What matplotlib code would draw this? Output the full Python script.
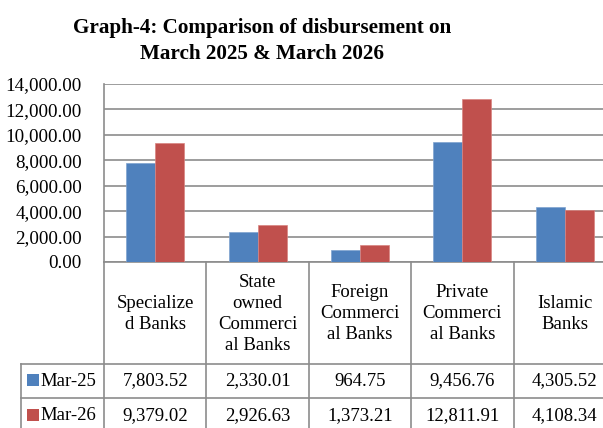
import matplotlib
matplotlib.use("Agg")
import matplotlib.pyplot as plt

categories = ["Specialize\nd Banks", "State\nowned\nCommerci\nal Banks",
              "Foreign\nCommerci\nal Banks", "Private\nCommerci\nal Banks",
              "Islamic\nBanks"]
series_names = ["Mar-25", "Mar-26"]
mar25 = [7803.52, 2330.01, 964.75, 9456.76, 4305.52]
mar26 = [9379.02, 2926.63, 1373.21, 12811.91, 4108.34]
yticks = [0, 2000, 4000, 6000, 8000, 10000, 12000, 14000]
title = "Graph-4: Comparison of disbursement on\nMarch 2025 & March 2026"

colors = ["#4F81BD", "#C0504D"]
edges = ["#7FA3D0", "#D98481"]
grid_c = "#8C8C8C"
FONT = "Liberation Serif"

W, H = 603, 428
fig = plt.figure(figsize=(W / 100, H / 100), dpi=100)
fig.patch.set_facecolor("white")

# pixel layout
x0, cat_w = 104, 102.4
y_top, y_axis = 84, 262
ncat = len(categories)
ax = fig.add_axes([x0 / W, (H - y_axis) / H, ncat * cat_w / W, (y_axis - y_top) / H])
ax.set_xlim(-0.5, ncat - 0.5)
ax.set_ylim(0, 14000)

bw = 29 / cat_w
xs = list(range(ncat))
ax.bar([x - bw / 2 for x in xs], mar25, width=bw, color=colors[0],
       edgecolor=edges[0], linewidth=0.5, zorder=3)
ax.bar([x + bw / 2 for x in xs], mar26, width=bw, color=colors[1],
       edgecolor=edges[1], linewidth=0.5, zorder=3)

ax.set_yticks(yticks)
ax.set_yticklabels([f"{v:,.2f}" for v in yticks], family=FONT, fontsize=13.7)
ax.tick_params(axis="y", length=0, pad=16)
ax.set_xticks([])
ax.yaxis.grid(True, color=grid_c, linewidth=1.2, zorder=0)
ax.set_axisbelow(True)
for s in ["top", "right"]:
    ax.spines[s].set_visible(False)
for s in ["left", "bottom"]:
    ax.spines[s].set_color(grid_c)
    ax.spines[s].set_linewidth(1.2)

fig.text(262 / W, 1 - 18 / H, title, ha="center", va="top", multialignment="center",
         family=FONT, fontweight="bold", fontsize=15.2, linespacing=1.38)

# data table axes (y data = pixels from top)
axt = fig.add_axes([x0 / W, 0, ncat * cat_w / W, (H - y_axis) / H])
axt.set_xlim(-0.5, ncat - 0.5)
axt.set_ylim(H, y_axis)
axt.axis("off")

row1, row2, row_end = 363.5, 397.5, 432
x_leg = -0.5 + (21 - x0) / cat_w
lk = dict(color=grid_c, linewidth=1.2, clip_on=False)
for b in [i - 0.5 for i in range(ncat + 1)]:
    axt.plot([b, b], [y_axis, H], **lk)
axt.plot([x_leg, ncat - 0.5], [row1, row1], **lk)
axt.plot([x_leg, ncat - 0.5], [row2, row2], **lk)
axt.plot([x_leg, x_leg], [row1, H], **lk)

tfs = 13.5
for i, lab in enumerate(categories):
    axt.text(i, (y_axis + row1) / 2 + 1, lab, ha="center", va="center",
             family=FONT, fontsize=tfs, linespacing=1.3, clip_on=False)
for vals, yc in [(mar25, (row1 + row2) / 2 + 0.5), (mar26, (row2 + row_end) / 2 + 1)]:
    for i, v in enumerate(vals):
        axt.text(i, yc, f"{v:,.2f}", ha="center", va="center",
                 family=FONT, fontsize=tfs, clip_on=False)

for k, (name, yc) in enumerate([(series_names[0], (row1 + row2) / 2 + 0.5),
                                (series_names[1], (row2 + row_end) / 2 + 1)]):
    mx = -0.5 + (33 - x0) / cat_w
    axt.scatter([mx], [yc - 1], marker="s", s=72, color=colors[k],
                clip_on=False, zorder=3, linewidths=0)
    axt.text(-0.5 + (40 - x0) / cat_w, yc, name, ha="left", va="center",
             family=FONT, fontsize=tfs, clip_on=False)

fig.savefig("out.png", dpi=100)
